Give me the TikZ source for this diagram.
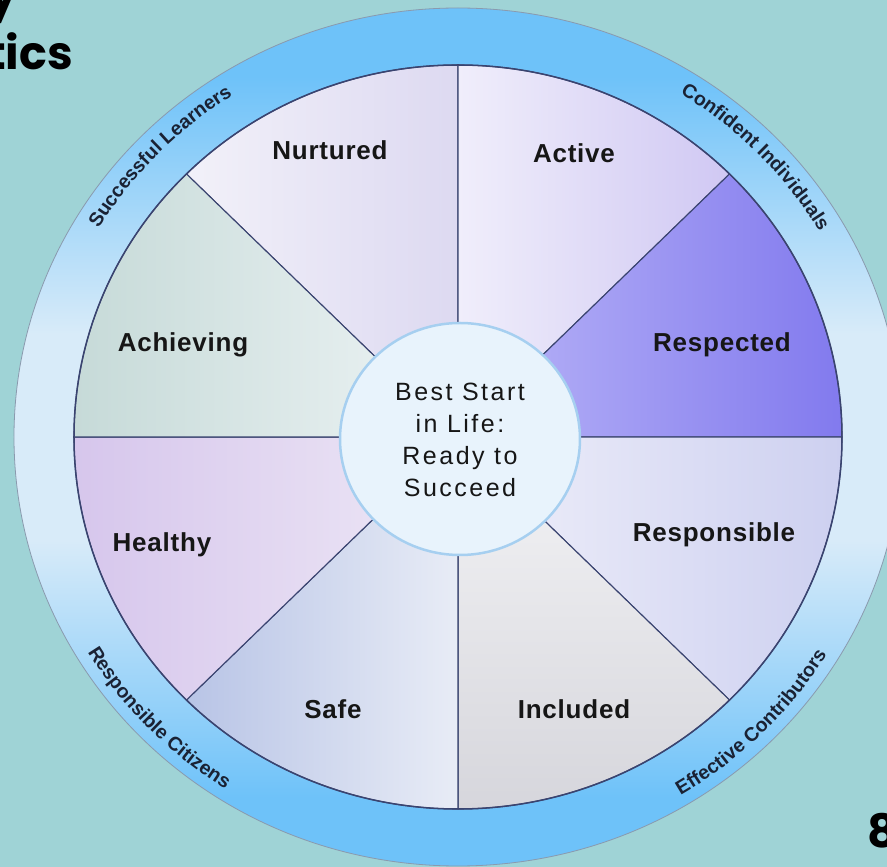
\documentclass[tikz,border=0pt]{standalone}
\usepackage{fontspec}
\setmainfont{Liberation Sans}
\newfontfamily\titlefont{Poppins}
\newfontfamily\centerfont[LetterSpace=10]{Liberation Sans}
\newfontfamily\wheelfont[LetterSpace=3]{Liberation Sans}
\newcommand{\ringfont}{\fontsize{19.5}{22}\selectfont\bfseries}
\usetikzlibrary{decorations.text}

\definecolor{backteal}{HTML}{9FD3D6}
\definecolor{ringblue}{HTML}{6EC2F9}
\definecolor{ringpale}{HTML}{D8EBF9}
\definecolor{ringedge}{HTML}{8A9AAE}
\definecolor{spokenavy}{HTML}{3A4470}
\definecolor{hubfill}{HTML}{E8F3FC}
\definecolor{hubedge}{HTML}{A6CFF0}
\definecolor{inkblack}{HTML}{161616}
\definecolor{ringtext}{HTML}{1A2234}

% pale band across the middle of the ring
\pgfdeclareverticalshading{ringshade}{100bp}{color(0bp)=(ringblue); color(29bp)=(ringblue);
    color(44bp)=(ringpale); color(56bp)=(ringpale); color(71bp)=(ringblue); color(100bp)=(ringblue)}

\begin{document}
\begin{tikzpicture}[x=1pt,y=1pt,
        sector/.style={draw=spokenavy,line width=1.1pt,line join=round},
        sector label/.style={anchor=base,inner sep=0pt,text=inkblack,
                             font=\wheelfont\fontsize{26}{30}\selectfont\bfseries},
        ring label/.style={decorate,decoration={text along path,
                           text align=center,text color=ringtext,text={#1}}},
        title text/.style={inner sep=0pt,text=black,
                           font=\titlefont\fontsize{46}{56}\selectfont\bfseries}]
    \coordinate (hub) at (0,0);

    \path[use as bounding box,fill=backteal] (-458,-430) rectangle (429,437);

    % outer ring
    \draw[ringedge,line width=0.8pt,shading=ringshade]
        (hub) ellipse[x radius=444,y radius=429];

    % eight sectors
    \path[sector,left color={rgb,255:red,242;green,241;blue,249},right color={rgb,255:red,221;green,217;blue,241}]
        (hub) -- (90:384 and 372) arc[start angle=90,end angle=135,x radius=384,y radius=372] -- cycle;
    \path[sector,left color={rgb,255:red,240;green,238;blue,251},right color={rgb,255:red,208;green,200;blue,243}]
        (hub) -- (45:384 and 372) arc[start angle=45,end angle=90,x radius=384,y radius=372] -- cycle;
    \path[sector,left color={rgb,255:red,186;green,182;blue,247},right color={rgb,255:red,130;green,122;blue,238}]
        (hub) -- (0:384 and 372) arc[start angle=0,end angle=45,x radius=384,y radius=372] -- cycle;
    \path[sector,left color={rgb,255:red,240;green,240;blue,250},right color={rgb,255:red,205;green,208;blue,240}]
        (hub) -- (-45:384 and 372) arc[start angle=-45,end angle=0,x radius=384,y radius=372] -- cycle;
    \path[sector,top color={rgb,255:red,244;green,244;blue,246},bottom color={rgb,255:red,214;green,214;blue,220}]
        (hub) -- (-90:384 and 372) arc[start angle=-90,end angle=-45,x radius=384,y radius=372] -- cycle;
    \path[sector,left color={rgb,255:red,184;green,196;blue,230},right color={rgb,255:red,232;green,236;blue,246}]
        (hub) -- (-135:384 and 372) arc[start angle=-135,end angle=-90,x radius=384,y radius=372] -- cycle;
    \path[sector,left color={rgb,255:red,214;green,198;blue,236},right color={rgb,255:red,238;green,232;blue,246}]
        (hub) -- (180:384 and 372) arc[start angle=180,end angle=225,x radius=384,y radius=372] -- cycle;
    \path[sector,left color={rgb,255:red,198;green,218;blue,216},right color={rgb,255:red,238;green,244;blue,245}]
        (hub) -- (135:384 and 372) arc[start angle=135,end angle=180,x radius=384,y radius=372] -- cycle;

    \draw[spokenavy,line width=1.5pt] (hub) ellipse[x radius=384,y radius=372];

    % hub
    \draw[hubedge,line width=2.5pt,fill=hubfill] (2,-2) ellipse[x radius=120,y radius=116];
    \node[align=center,inner sep=0pt,text=inkblack,font=\centerfont\fontsize{25}{32}\selectfont] (hub text) at (2,-2.5)
        {Best Start\\in Life:\\Ready to\\Succeed};

    \node[sector label] (nurtured) at (-128,277) {Nurtured};
    \node[sector label] (active) at (116,274) {Active};
    \node[sector label] (respected) at (264,85) {Respected};
    \node[sector label] (responsible) at (256,-105) {Responsible};
    \node[sector label] (included) at (116,-282) {Included};
    \node[sector label] (safe) at (-125,-282) {Safe};
    \node[sector label] (healthy) at (-296,-115) {Healthy};
    \node[sector label] (achieving) at (-275,85) {Achieving};

    % ring texts
    \path[ring label={|\ringfont|Successful Learners}]
        (166:419 and 405) arc[start angle=166,end angle=106,x radius=419,y radius=405];
    \path[ring label={|\ringfont|Confident Individuals}]
        (74:419 and 405) arc[start angle=74,end angle=14,x radius=419,y radius=405];
    \path[ring label={|\ringfont|Responsible Citizens}]
        (194:432 and 418) arc[start angle=194,end angle=254,x radius=432,y radius=418];
    \path[ring label={|\ringfont|Effective Contributors}]
        (-75:432 and 418) arc[start angle=-75,end angle=-15,x radius=432,y radius=418];

    % cut-off slide text
    \node[title text,anchor=base east] (title tail) at (-440,425) {y};
    \node[title text,anchor=base east] (title line) at (-385,367) {tics};
    \node[title text,anchor=base west] (page number) at (409,-410) {8};
\end{tikzpicture}
\end{document}
